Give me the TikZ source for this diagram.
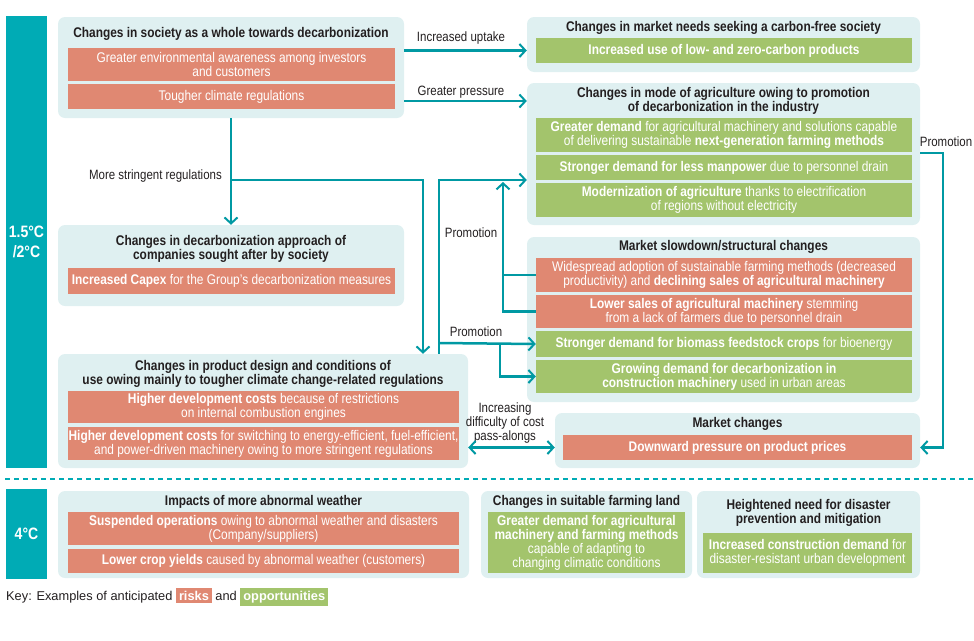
\documentclass[tikz,border=0pt]{standalone}
\usepackage{fontspec}
\setmainfont{Liberation Sans}[FakeStretch=0.85]
\newfontfamily\keyfont{Liberation Sans}
\usepackage{xcolor}
\usepackage{tikz}
\usetikzlibrary{arrows.meta,positioning}

\definecolor{barteal}{HTML}{00ABB5}
\definecolor{linkteal}{HTML}{0099A3}
\definecolor{panelbg}{HTML}{DFF0F1}
\definecolor{riskred}{HTML}{E08872}
\definecolor{oppgreen}{HTML}{A3C46C}
\definecolor{inktext}{HTML}{231F20}

\begin{document}
\begin{tikzpicture}[
    x=1pt,y=-1pt,
    font=\fontsize{14}{14}\selectfont,
    bar/.style={fill=barteal,text=white,align=center,minimum width=41pt,inner sep=0pt,font=\fontsize{16.5}{20}\selectfont\bfseries},
    panel/.style={fill=panelbg,rounded corners=7pt,inner sep=0pt},
    title/.style={align=center,inner sep=0pt,text=inktext,font=\fontsize{14}{14}\selectfont\bfseries},
    risk/.style={fill=riskred,text=white,align=center,inner sep=0pt},
    opp/.style={fill=oppgreen,text=white,align=center,inner sep=0pt},
    lbl/.style={align=center,inner sep=0pt,text=inktext,font=\fontsize{13.5}{14}\selectfont},
    link/.style={draw=linkteal,line width=2.5pt},
    arrow/.style={link,-{Straight Barb[length=6pt,width=13pt,line width=2pt]}},
    dblarrow/.style={link,{Straight Barb[length=6pt,width=13pt,line width=2pt]}-{Straight Barb[length=6pt,width=13pt,line width=2pt]}}
]
\useasboundingbox (0,0) rectangle (974,640);

\node[bar,minimum height=452pt] (barHi) at (26.5,242) {1.5°C\\/2°C};
\node[bar,minimum height=90pt] (barLo) at (26.5,534) {4°C};
\draw[barteal,line width=1.5pt,dash pattern=on 5pt off 4pt] (5,479) -- (974,479);

\node[panel,minimum width=346pt,minimum height=101pt] (soc) at (231,67.5) {};
\node[title] (socT) at (231,34) {Changes in society as a whole towards decarbonization};
\node[risk,minimum width=327pt,minimum height=33pt] (socA) at (231.5,64.5) {Greater environmental awareness among investors\\and customers};
\node[risk,minimum width=327pt,minimum height=25pt] (socB) at (231.5,96.5) {Tougher climate regulations};

\node[panel,minimum width=393pt,minimum height=55pt] (mkt) at (723.5,44.5) {};
\node[title] (mktT) at (723.5,28) {Changes in market needs seeking a carbon-free society};
\node[opp,minimum width=376pt,minimum height=25pt] (mktA) at (724,50.5) {\textbf{Increased use of low- and zero-carbon products}};

\node[panel,minimum width=393pt,minimum height=142pt] (agr) at (723.5,154) {};
\node[title] (agrT) at (723.5,101) {Changes in mode of agriculture owing to promotion\\of decarbonization in the industry};
\node[opp,minimum width=376pt,minimum height=34pt] (agrA) at (724,135) {\textbf{Greater demand} for agricultural machinery and solutions capable\\of delivering sustainable \textbf{next-generation farming methods}};
\node[opp,minimum width=376pt,minimum height=25pt] (agrB) at (724,167.5) {\textbf{Stronger demand for less manpower} due to personnel drain};
\node[opp,minimum width=376pt,minimum height=34pt] (agrC) at (724,200) {\textbf{Modernization of agriculture} thanks to electrification\\of regions without electricity};

\node[panel,minimum width=346pt,minimum height=81pt] (dec) at (231,265.5) {};
\node[title] (decT) at (231,249) {Changes in decarbonization approach of\\companies sought after by society};
\node[risk,minimum width=327pt,minimum height=26pt] (decA) at (231.5,281) {\textbf{Increased Capex} for the Group’s decarbonization measures};

\node[panel,minimum width=393pt,minimum height=165pt] (slw) at (723.5,319.5) {};
\node[title] (slwT) at (723.5,247) {Market slowdown/structural changes};
\node[risk,minimum width=376pt,minimum height=34pt] (slwA) at (724,275) {Widespread adoption of sustainable farming methods (decreased\\productivity) and \textbf{declining sales of agricultural machinery}};
\node[risk,minimum width=376pt,minimum height=33pt] (slwB) at (724,311.5) {\textbf{Lower sales of agricultural machinery} stemming\\from a lack of farmers due to personnel drain};
\node[opp,minimum width=376pt,minimum height=26pt] (slwC) at (724,344) {\textbf{Stronger demand for biomass feedstock crops} for bioenergy};
\node[opp,minimum width=376pt,minimum height=33pt] (slwD) at (724,376.5) {\textbf{Growing demand for decarbonization in}\\\textbf{construction machinery} used in urban areas};

\node[panel,minimum width=410pt,minimum height=114pt] (prd) at (263,411) {};
\node[title] (prdT) at (263,374) {Changes in product design and conditions of\\use owing mainly to tougher climate change-related regulations};
\node[risk,minimum width=391pt,minimum height=32pt] (prdA) at (263.5,407) {\textbf{Higher development costs} because of restrictions\\on internal combustion engines};
\node[risk,minimum width=391pt,minimum height=33pt] (prdB) at (263.5,443.5) {\textbf{Higher development costs} for switching to energy-efficient, fuel-efficient,\\and power-driven machinery owing to more stringent regulations};

\node[panel,minimum width=365pt,minimum height=55pt] (chg) at (737.5,440.5) {};
\node[title] (chgT) at (737.5,424) {Market changes};
\node[risk,minimum width=349pt,minimum height=25pt] (chgA) at (737.5,447.5) {\textbf{Downward pressure on product prices}};

\node[panel,minimum width=411pt,minimum height=87pt] (wea) at (263.5,534.5) {};
\node[title] (weaT) at (263.5,502) {Impacts of more abnormal weather};
\node[risk,minimum width=391pt,minimum height=33pt] (weaA) at (263.5,528.5) {\textbf{Suspended operations} owing to abnormal weather and disasters\\(Company/suppliers)};
\node[risk,minimum width=391pt,minimum height=24pt] (weaB) at (263.5,561) {\textbf{Lower crop yields} caused by abnormal weather (customers)};

\node[panel,minimum width=211pt,minimum height=87pt] (lnd) at (586.5,534.5) {};
\node[title] (lndT) at (586.5,502) {Changes in suitable farming land};
\node[opp,minimum width=197pt,minimum height=61pt] (lndA) at (586.5,542.5) {\textbf{Greater demand for agricultural}\\\textbf{machinery and farming methods}\\capable of adapting to\\changing climatic conditions};

\node[panel,minimum width=223pt,minimum height=87pt] (dis) at (808.5,534.5) {};
\node[title] (disT) at (808.5,513) {Heightened need for disaster\\prevention and mitigation};
\node[opp,minimum width=209pt,minimum height=40pt] (disA) at (807.5,553) {\textbf{Increased construction demand} for\\disaster-resistant urban development};

\node[lbl,anchor=west,font=\keyfont\fontsize{12.8}{14}\selectfont] (key) at (6,597) {Key: Examples of anticipated \colorbox{riskred}{\textcolor{white}{\textbf{risks}}} and \colorbox{oppgreen}{\textcolor{white}{\textbf{opportunities}}}};

\node[lbl] (lUptake) at (461,38) {Increased uptake};
\node[lbl] (lPressure) at (461,92) {Greater pressure};
\node[lbl,anchor=east] (lStringent) at (222,176) {More stringent regulations};
\node[lbl] (lPromoUp) at (471,233) {Promotion};
\node[lbl] (lPromoLow) at (476,332) {Promotion};
\node[lbl] (lPromoRight) at (946,142) {Promotion};
\node[lbl] (lPassAlong) at (505,423) {Increasing\\difficulty of cost\\pass-alongs};

\coordinate (regSplit) at (231,180);
\coordinate (regTurn) at (423,180);
\coordinate (promB) at (439,180);
\coordinate (promC) at (503,182);
\coordinate (promD) at (439,343);
\coordinate (promE) at (500,343);
\coordinate (promR) at (943,153);

\draw[arrow] (soc.east |- mktA) -- (mkt.west |- mktA);
\draw[arrow] (soc.east |- agrT) -- (agr.west |- agrT);
\draw[arrow] (soc.south) -- (dec.north);
\draw[arrow] (regSplit) -- (regTurn) -- (regTurn |- prd.north);
\draw[arrow] (prd.north -| promB) -- (promB) -- (agr.west |- promB);
\draw[link] (slwA.west) -- (slwA.west -| promC);
\draw[arrow] (slwB.west) -| (promC);
\draw[arrow] (promD) -- (slwC.west);
\draw[arrow] (promE) |- (slwD.west);
\draw[arrow] (agr.east |- promR) -- (promR) |- (chgA.east -| chg.east);
\draw[dblarrow] (prd.east |- chgA) -- (chg.west |- chgA);
\end{tikzpicture}
\end{document}
